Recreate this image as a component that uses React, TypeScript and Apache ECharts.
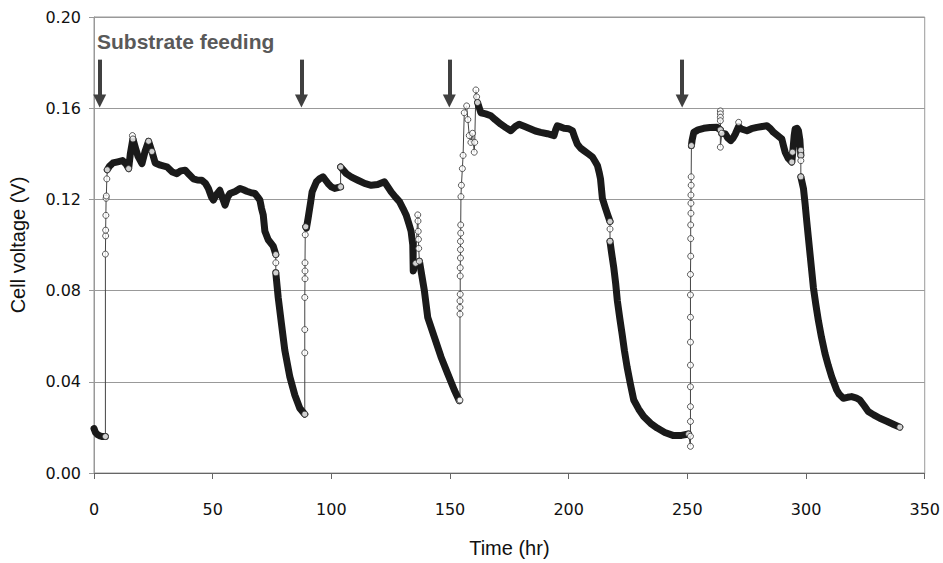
import React, { useEffect, useRef } from "react";
import * as echarts from "echarts";

// ---- data: [time (hr), cell voltage (V)] ----
const base0 = [[0, 0.0195], [0.6, 0.0178], [1.5, 0.0168], [2.5, 0.0163], [3.6, 0.016], [4.8, 0.016]];
const rise1 = [[4.8, 0.016], [4.8, 0.096], [4.9, 0.104], [4.9, 0.1065], [5.0, 0.113], [5.1, 0.1205], [5.2, 0.1215], [5.4, 0.129], [5.6, 0.133]];
const run1a = [[5.6, 0.133], [6.5, 0.1345], [8, 0.136], [10, 0.1365], [12, 0.137], [13.5, 0.1355], [14.6, 0.1335], [15.3, 0.14], [16.4, 0.1465], [17.5, 0.1425], [18.5, 0.139], [20.2, 0.1357], [21.5, 0.141], [23, 0.1455], [24.4, 0.141], [25.8, 0.136], [28, 0.135], [30.7, 0.1343], [33, 0.132], [34.9, 0.1313], [36.5, 0.1325], [38.4, 0.1328], [40, 0.131], [41.9, 0.129], [43.5, 0.1285], [45.4, 0.1284], [47, 0.127], [48.2, 0.1248], [49.5, 0.121], [50.3, 0.1197], [51.5, 0.122], [53, 0.124], [54, 0.121], [55.2, 0.1175], [56.3, 0.121], [57.3, 0.1226], [59.5, 0.1235], [61.5, 0.1248], [63, 0.1242], [64.3, 0.1236], [66, 0.123], [67.8, 0.1226], [69, 0.121], [69.9, 0.1197], [70.6, 0.116], [71.3, 0.1132], [72, 0.106], [73.4, 0.1023], [75.5, 0.0995], [76.6, 0.0958]];
const peaks1 = [[16.2, 0.148], [16.4, 0.1465], [23, 0.1455], [14.6, 0.1335], [24.4, 0.141]];
const gap1 = [[76.6, 0.0958], [76.6, 0.0922], [76.6, 0.0878]];
const run1b = [[76.6, 0.0878], [77.6, 0.077], [79, 0.0653], [80.4, 0.0538], [82.5, 0.0422], [84.6, 0.0342], [86.7, 0.0284], [88.8, 0.0258]];

const rise2 = [[88.8, 0.0258], [88.8, 0.0527], [88.8, 0.0629], [88.8, 0.077], [88.9, 0.0852], [88.9, 0.0886], [88.9, 0.0922], [89.0, 0.1045], [89.2, 0.108]];
const run2a = [[89.2, 0.108], [89.5, 0.1074], [90.2, 0.1117], [91.3, 0.119], [91.9, 0.1233], [93.7, 0.1277], [95, 0.129], [96.5, 0.1299], [97.5, 0.1285], [98.6, 0.127], [100, 0.1255], [101.4, 0.1248], [103.9, 0.1255]];
const jump2 = [[103.9, 0.1255], [103.9, 0.1342]];
const run2b = [[103.9, 0.1342], [106.3, 0.1313], [108.5, 0.1298], [111.2, 0.1284], [114, 0.127], [116.8, 0.1262], [119.5, 0.1265], [122.4, 0.1277], [123.8, 0.1255], [125.2, 0.1233], [127, 0.121], [128.7, 0.119], [130.2, 0.116], [131.5, 0.1132], [132.6, 0.1095], [133.6, 0.106], [134.3, 0.1001], [134.5, 0.0886], [135.5, 0.092]];
const step2 = [[135.5, 0.092], [136.4, 0.1132], [136.5, 0.1105], [136.6, 0.106], [136.7, 0.1025], [136.8, 0.0985], [137.1, 0.0929]];
const run2c = [[137.1, 0.0929], [139.2, 0.0799], [140.6, 0.0683], [143.4, 0.0596], [146.2, 0.0509], [149, 0.0436], [151.8, 0.0364], [153.9, 0.0317]];

const rise3 = [[153.9, 0.0317], [154.2, 0.032], [154.2, 0.0697], [154.2, 0.0726], [154.2, 0.0755], [154.3, 0.0784], [154.3, 0.0864], [154.3, 0.09], [154.4, 0.0943], [154.4, 0.098], [154.4, 0.1016], [154.5, 0.1052], [154.5, 0.1088], [154.6, 0.1212], [154.8, 0.1262], [155.2, 0.1335], [155.5, 0.1393], [156, 0.158], [157, 0.161], [157.5, 0.155], [158.1, 0.148], [158.8, 0.145], [159.5, 0.149], [160.2, 0.1407], [160.4, 0.145], [160.9, 0.168], [161.2, 0.165], [161.6, 0.1625]];
const run3a = [[161.6, 0.1625], [163, 0.158], [165, 0.1575], [167.2, 0.1567], [169, 0.155], [171.4, 0.153], [173.5, 0.1515], [175.6, 0.1501], [177.5, 0.152], [179.1, 0.153], [181.5, 0.152], [184, 0.1509], [186, 0.15], [188.2, 0.1494], [191, 0.1488], [193.8, 0.148], [194.5, 0.1505], [195.2, 0.1523], [196.5, 0.1518], [198, 0.1512], [200, 0.151], [201.6, 0.1501], [202.6, 0.147], [203.6, 0.1443], [205, 0.1425], [206.4, 0.1414], [208.2, 0.14], [210, 0.1386], [211.2, 0.1365], [212.1, 0.1349], [212.8, 0.132], [213.4, 0.129], [214.2, 0.1204], [215.5, 0.1161], [216.5, 0.113], [217.4, 0.1103]];
const gap3 = [[217.4, 0.1103], [217.4, 0.107], [217.4, 0.1016]];
const run3b = [[217.4, 0.1016], [218, 0.097], [219, 0.09], [219.8, 0.083], [220.5, 0.0755], [221.5, 0.068], [222.5, 0.061], [223.5, 0.0535], [224.6, 0.0465], [226, 0.039], [227.4, 0.032], [229.5, 0.028], [231.6, 0.0248], [234.5, 0.0218], [237.3, 0.0197], [240.5, 0.0178], [244.2, 0.0164], [247.5, 0.0165], [250.5, 0.0171]];

const rise4 = [[250.5, 0.0171], [251.3, 0.0117], [251.3, 0.0161], [251.3, 0.0226], [251.3, 0.0291], [251.3, 0.0378], [251.3, 0.0473], [251.3, 0.0574], [251.3, 0.0683], [251.3, 0.0781], [251.3, 0.0871], [251.4, 0.0951], [251.4, 0.1028], [251.4, 0.1088], [251.5, 0.1139], [251.5, 0.1183], [251.5, 0.1219], [251.6, 0.1262], [251.6, 0.1299], [251.7, 0.1436]];
const run4a = [[251.7, 0.1436], [252, 0.146], [252.7, 0.1494], [254.5, 0.1505], [256.9, 0.1512], [259.5, 0.1515], [262.5, 0.1516], [263.9, 0.1505]];
const spike4 = [[263.9, 0.1505], [263.9, 0.1588], [263.9, 0.1575], [263.9, 0.156], [263.9, 0.1545], [263.9, 0.1429], [264.5, 0.149]];
const run4b = [[264.5, 0.149], [266, 0.1487], [267, 0.147], [268.3, 0.1458], [269.3, 0.147], [270.2, 0.1487], [271.6, 0.152], [272.5, 0.151], [275.1, 0.1501], [277, 0.151], [279.3, 0.1516], [281.5, 0.152], [283.5, 0.1523], [285, 0.151], [286.3, 0.1494], [288, 0.148], [289.8, 0.1465], [290.5, 0.1435], [291.2, 0.1407], [292.5, 0.138], [294, 0.1364], [294.5, 0.142], [295, 0.148], [295.4, 0.1509], [296.2, 0.1512], [296.8, 0.1501], [297.4, 0.146], [297.8, 0.1393]];
const peaks4 = [[271.6, 0.1538], [294, 0.1364], [294.3, 0.1407], [297.8, 0.1415]];
const gap4 = [[297.8, 0.1393], [297.8, 0.137], [297.8, 0.1299]];
const run4c = [[297.8, 0.1299], [298.9, 0.1248], [299.6, 0.118], [300.3, 0.1103], [301, 0.103], [301.7, 0.0958], [302.4, 0.0885], [303.1, 0.0813], [304.1, 0.074], [305.2, 0.0668], [306.5, 0.0595], [308, 0.0523], [309.4, 0.047], [310.8, 0.0422], [312.9, 0.0364], [314, 0.0345], [315.7, 0.0328], [317.5, 0.0332], [319.2, 0.0335], [321, 0.033], [322.7, 0.032], [324.5, 0.0295], [326.2, 0.027], [328.5, 0.0255], [331.1, 0.024], [334, 0.0227], [336.7, 0.0214], [339.5, 0.0201]];
const tail = [[339.5, 0.0201]];

// feeding events (hr)
const feedingTimes = [2.4, 87.4, 149.7, 247.8];
const feedingLabel = "Substrate feeding";

const traceOrder = [base0, rise1, run1a, gap1, run1b, rise2, run2a, jump2, run2b, step2, run2c, rise3, run3a, gap3, run3b, rise4, run4a, spike4, run4b, gap4, run4c];
const denseRuns = [base0, run1a, run1b, run2a, run2b, run2c, run3a, run3b, run4a, run4b, run4c];
const sparsePoints = [rise1, peaks1, gap1, rise2, jump2, step2, rise3, gap3, rise4, spike4, peaks4, gap4, tail];

const xTicks = { min: 0, max: 350, interval: 50 };
const yTicks = { min: 0, max: 0.2, interval: 0.04 };

export default function App() {
  const ref = useRef<HTMLDivElement>(null);
  useEffect(() => {
    if (!ref.current) return;
    const chart = echarts.init(ref.current, null, { renderer: "svg" });
    const fullTrace = traceOrder.flat();
    const sparse = sparsePoints.flat();
    const tickFont = { fontFamily: "DejaVu Sans", fontSize: 16, color: "#111" };
    const titleFont = { fontFamily: "Liberation Sans, Arial, sans-serif", fontSize: 20, color: "#111" };

    chart.setOption({
      animation: false,
      backgroundColor: "#fff",
      title: {
        text: feedingLabel,
        left: 92,
        top: 26,
        textStyle: { fontFamily: "Liberation Sans, Arial, sans-serif", fontSize: 21, fontWeight: "bold", color: "#595959" },
      },
      grid: { left: 92, right: 16, top: 17, bottom: 86, show: true, borderColor: "#999", borderWidth: 1 },
      xAxis: {
        type: "value",
        ...xTicks,
        name: "Time (hr)",
        nameLocation: "middle",
        nameGap: 65,
        nameTextStyle: titleFont,
        axisLine: { show: true, lineStyle: { color: "#666", width: 1 } },
        axisTick: { show: true, length: 6, lineStyle: { color: "#666" } },
        axisLabel: { ...tickFont, margin: 28 },
        splitLine: { show: false },
      },
      yAxis: {
        type: "value",
        ...yTicks,
        name: "Cell voltage (V)",
        nameLocation: "middle",
        nameGap: 66,
        nameRotate: 90,
        nameTextStyle: titleFont,
        axisLine: { show: true, lineStyle: { color: "#999", width: 1 } },
        axisTick: { show: true, length: 5, lineStyle: { color: "#999" } },
        axisLabel: { ...tickFont, margin: 13, formatter: (v: number) => v.toFixed(2) },
        splitLine: { show: true, lineStyle: { color: "#999", width: 1 } },
      },
      series: [
        {
          type: "line",
          data: fullTrace,
          showSymbol: false,
          symbol: "none",
          lineStyle: { color: "#444", width: 1 },
          z: 2,
          silent: true,
          markLine: {
            silent: true,
            symbol: ["none", "triangle"],
            symbolSize: [13, 13],
            label: { show: false },
            lineStyle: { color: "#404040", width: 4, type: "solid" },
            emphasis: { disabled: true },
            data: feedingTimes.map((t) => [
              { coord: [t, 0.1813] },
              { coord: [t, 0.1632] },
            ]),
          },
        },
        ...denseRuns.map((run) => ({
          type: "line",
          data: run,
          showSymbol: false,
          symbol: "none",
          lineStyle: { color: "#1a1a1a", width: 7, cap: "round", join: "round" },
          z: 3,
          silent: true,
        })),
        {
          type: "scatter",
          data: sparse,
          symbol: "circle",
          symbolSize: 6,
          itemStyle: { color: "#fff", borderColor: "#333", borderWidth: 1 },
          z: 4,
          silent: true,
        },
      ],
    });
    return () => chart.dispose();
  }, []);
  return <div ref={ref} style={{ position: "absolute", left: 0, top: 0, width: 943, height: 563 }} />;
}
